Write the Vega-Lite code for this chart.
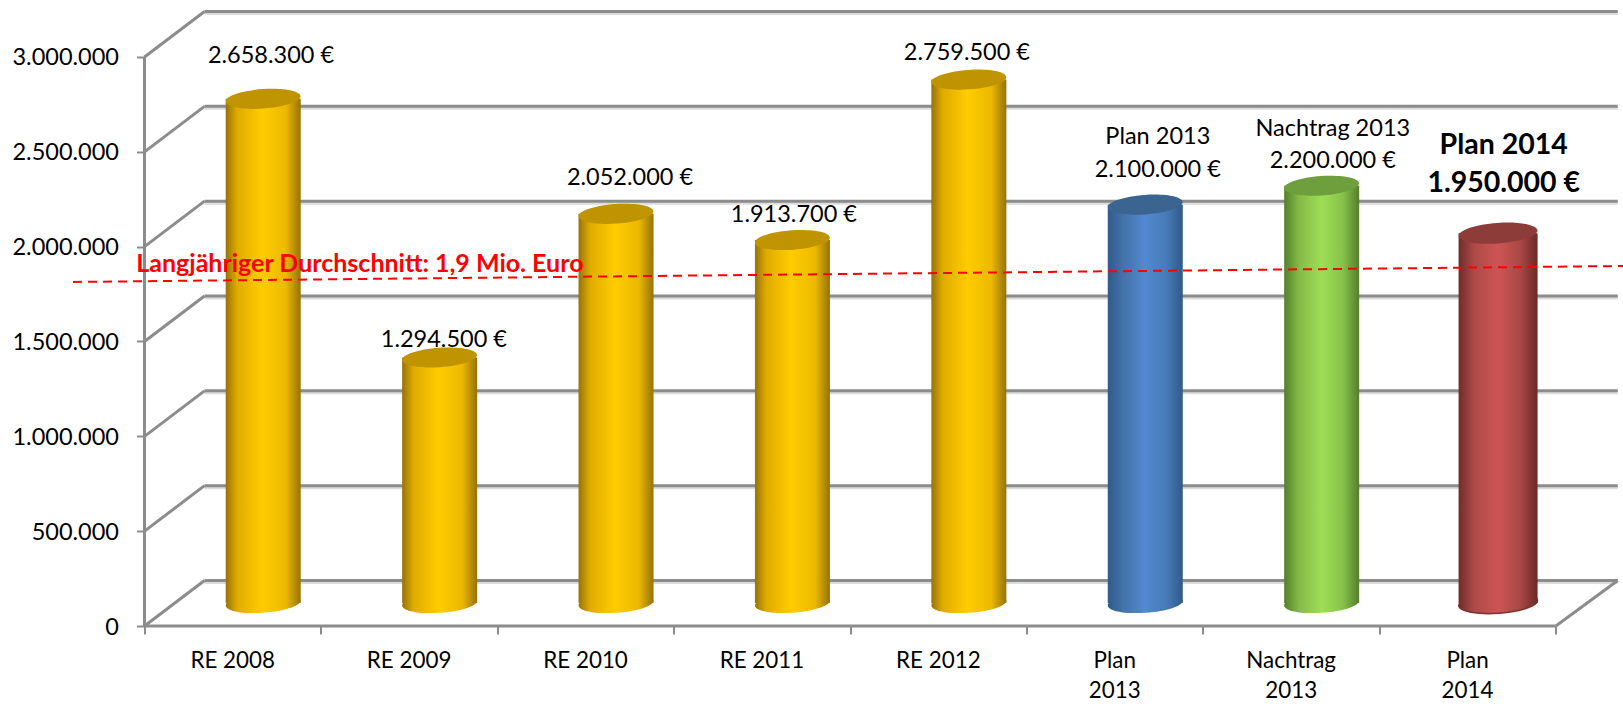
{
"$schema":"https://vega.github.io/schema/vega-lite/v6.json",
"autosize":"none","width":1478.5,"height":626,
"padding":{"left":144.5,"top":0,"right":0,"bottom":78},
"background":"white",
"config":{"view":{"stroke":null},"font":"Lato","text":{"font":"Lato"}},
"datasets":{
"grid":[{"v":0},{"v":500000},{"v":1000000},{"v":1500000},{"v":2000000},{"v":2500000},{"v":3000000}],
"bars":[
{"cat":"RE 2008","axisLabel":"RE 2008","pos":0.5,"value":2658300,"series":"RE"},
{"cat":"RE 2009","axisLabel":"RE 2009","pos":1.5,"value":1294500,"series":"RE"},
{"cat":"RE 2010","axisLabel":"RE 2010","pos":2.5,"value":2052000,"series":"RE"},
{"cat":"RE 2011","axisLabel":"RE 2011","pos":3.5,"value":1913700,"series":"RE"},
{"cat":"RE 2012","axisLabel":"RE 2012","pos":4.5,"value":2759500,"series":"RE"},
{"cat":"Plan 2013","axisLabel":"Plan\n2013","pos":5.5,"value":2100000,"series":"Plan 2013"},
{"cat":"Nachtrag 2013","axisLabel":"Nachtrag\n2013","pos":6.5,"value":2200000,"series":"Nachtrag 2013"},
{"cat":"Plan 2014","axisLabel":"Plan\n2014","pos":7.5,"value":1950000,"series":"Plan 2014"}
],
"labels":[
{"t":"2.658.300 €","lx":0.717,"ly":3021000},
{"t":"1.294.500 €","lx":1.697,"ly":1521000},
{"t":"2.052.000 €","lx":2.752,"ly":2373000},
{"t":"1.913.700 €","lx":3.681,"ly":2178000},
{"t":"2.759.500 €","lx":4.662,"ly":3032000},
{"t":"Plan 2013","lx":5.744,"ly":2589000},
{"t":"2.100.000 €","lx":5.744,"ly":2420000},
{"t":"Nachtrag 2013","lx":6.736,"ly":2636000},
{"t":"2.200.000 €","lx":6.736,"ly":2467000}
],
"boldLabels":[
{"t":"Plan 2014","lx":7.705,"ly":2547000},
{"t":"1.950.000 €","lx":7.705,"ly":2346000}
],
"avg":[{"x":-0.405,"y":1814000,"x2":8.381,"y2":1898000}]
},
"layer":[
{"data":{"name":"grid"},"mark":{"type":"rule","stroke":"#dcdcdc","strokeWidth":3,"xOffset":60,"x2Offset":62,"yOffset":-43.5,"y2Offset":-43.5},
 "encoding":{
  "x":{"datum":0,"type":"quantitative","title":null,"scale":{"domain":[0,8.381],"nice":false,"zero":false,"padding":0},
    "axis":{"values":[0,1,2,3,4,5,6,7,8],"labels":false,"title":null,"grid":false,"domain":false,"tickSize":8,"tickWidth":2,"tickColor":"#8c8c8c"}},
  "x2":{"datum":8},
  "y":{"field":"v","type":"quantitative","title":null,"scale":{"domain":[0,3300527],"nice":false,"padding":0},
    "axis":{"values":[0,500000,1000000,1500000,2000000,2500000,3000000],"title":null,"grid":false,"domain":false,"tickSize":8,"tickWidth":2,"tickColor":"#8c8c8c","labelFont":"Lato","labelFontSize":23.5,"labelColor":"#000000","labelPadding":18,"labelOffset":1,"labelExpr":"replace(format(datum.value,','),/,/g,'.')"}}
 }},
{"data":{"name":"grid"},"mark":{"type":"rule","stroke":"#8c8c8c","strokeWidth":3,"xOffset":60,"x2Offset":62,"yOffset":-45.5,"y2Offset":-45.5},
 "encoding":{"x":{"datum":0,"type":"quantitative"},"x2":{"datum":8},"y":{"field":"v","type":"quantitative"}}},
{"data":{"name":"grid"},"mark":{"type":"rule","stroke":"#8c8c8c","strokeWidth":3,"x2Offset":60,"y2Offset":-45.5},
 "encoding":{"x":{"datum":0,"type":"quantitative"},"x2":{"datum":0},"y":{"field":"v","type":"quantitative"},"y2":{"field":"v"}}},
{"data":{"values":[{"v":0}]},"mark":{"type":"rule","stroke":"#8c8c8c","strokeWidth":3,"x2Offset":62,"y2Offset":-45.5},
 "encoding":{"x":{"datum":8,"type":"quantitative"},"x2":{"datum":8},"y":{"field":"v","type":"quantitative"},"y2":{"field":"v"}}},
{"data":{"values":[{"v":0}]},"mark":{"type":"rule","stroke":"#8c8c8c","strokeWidth":3},
 "encoding":{"x":{"datum":0,"type":"quantitative"},"x2":{"datum":8},"y":{"field":"v","type":"quantitative"}}},
{"data":{"values":[{"v":0,"v2":3000000}]},"mark":{"type":"rule","stroke":"#8c8c8c","strokeWidth":3},
 "encoding":{"x":{"datum":0,"type":"quantitative"},"y":{"field":"v","type":"quantitative"},"y2":{"field":"v2"}}},

{"data":{"name":"bars"},"transform":[{"filter":"datum.series==='RE'"}],"layer":[
 {"mark":{"type":"point","filled":true,"opacity":1,"size":5625,"shape":"M-0.998,0.07 A1,0.26 -4 1 0 0.998,-0.07 A1,0.26 -4 1 0 -0.998,0.07 Z","xOffset":30.5,"yOffset":-23,
   "fill":{"gradient":"linear","x1":0,"y1":0,"x2":1,"y2":0,"stops":[{"offset":0,"color":"#96720a"},{"offset":0.15,"color":"#dfab00"},{"offset":0.48,"color":"#ffcc00"},{"offset":0.8,"color":"#edb900"},{"offset":1,"color":"#96720a"}]}},
  "encoding":{"x":{"field":"pos","type":"quantitative"},"y":{"datum":0,"type":"quantitative"}}},
 {"mark":{"type":"bar","orient":"vertical","size":75,"xOffset":30.5,"yOffset":-23,"y2Offset":-23,
   "fill":{"gradient":"linear","x1":0,"y1":0,"x2":1,"y2":0,"stops":[{"offset":0,"color":"#96720a"},{"offset":0.15,"color":"#dfab00"},{"offset":0.48,"color":"#ffcc00"},{"offset":0.8,"color":"#edb900"},{"offset":1,"color":"#96720a"}]}},
  "encoding":{"x":{"field":"pos","type":"quantitative"},"y":{"field":"value","type":"quantitative"},"y2":{"datum":0}}},
 {"mark":{"type":"point","filled":true,"opacity":1,"size":5625,"fill":"#c09300","shape":"M-0.998,0.07 A1,0.26 -4 1 1 0.998,-0.07 A1,0.26 -4 1 1 -0.998,0.07 Z","xOffset":30.5,"yOffset":-23},
  "encoding":{"x":{"field":"pos","type":"quantitative"},"y":{"field":"value","type":"quantitative"}}}
]},
{"data":{"name":"bars"},"transform":[{"filter":"datum.series==='Plan 2013'"}],"layer":[
 {"mark":{"type":"point","filled":true,"opacity":1,"size":5625,"shape":"M-0.998,0.07 A1,0.26 -4 1 0 0.998,-0.07 A1,0.26 -4 1 0 -0.998,0.07 Z","xOffset":30.5,"yOffset":-23,
   "fill":{"gradient":"linear","x1":0,"y1":0,"x2":1,"y2":0,"stops":[{"offset":0,"color":"#2f5a8a"},{"offset":0.2,"color":"#4472a8"},{"offset":0.5,"color":"#5289d0"},{"offset":0.78,"color":"#477bb8"},{"offset":1,"color":"#2f5a8a"}]}},
  "encoding":{"x":{"field":"pos","type":"quantitative"},"y":{"datum":0,"type":"quantitative"}}},
 {"mark":{"type":"bar","orient":"vertical","size":75,"xOffset":30.5,"yOffset":-23,"y2Offset":-23,
   "fill":{"gradient":"linear","x1":0,"y1":0,"x2":1,"y2":0,"stops":[{"offset":0,"color":"#2f5a8a"},{"offset":0.2,"color":"#4472a8"},{"offset":0.5,"color":"#5289d0"},{"offset":0.78,"color":"#477bb8"},{"offset":1,"color":"#2f5a8a"}]}},
  "encoding":{"x":{"field":"pos","type":"quantitative"},"y":{"field":"value","type":"quantitative"},"y2":{"datum":0}}},
 {"mark":{"type":"point","filled":true,"opacity":1,"size":5625,"fill":"#3c6491","shape":"M-0.998,0.07 A1,0.26 -4 1 1 0.998,-0.07 A1,0.26 -4 1 1 -0.998,0.07 Z","xOffset":30.5,"yOffset":-23},
  "encoding":{"x":{"field":"pos","type":"quantitative"},"y":{"field":"value","type":"quantitative"}}}
]},
{"data":{"name":"bars"},"transform":[{"filter":"datum.series==='Nachtrag 2013'"}],"layer":[
 {"mark":{"type":"point","filled":true,"opacity":1,"size":5625,"shape":"M-0.998,0.07 A1,0.26 -4 1 0 0.998,-0.07 A1,0.26 -4 1 0 -0.998,0.07 Z","xOffset":30.5,"yOffset":-23,
   "fill":{"gradient":"linear","x1":0,"y1":0,"x2":1,"y2":0,"stops":[{"offset":0,"color":"#557f2b"},{"offset":0.2,"color":"#85bb46"},{"offset":0.5,"color":"#9ede58"},{"offset":0.78,"color":"#88c24a"},{"offset":1,"color":"#557f2b"}]}},
  "encoding":{"x":{"field":"pos","type":"quantitative"},"y":{"datum":0,"type":"quantitative"}}},
 {"mark":{"type":"bar","orient":"vertical","size":75,"xOffset":30.5,"yOffset":-23,"y2Offset":-23,
   "fill":{"gradient":"linear","x1":0,"y1":0,"x2":1,"y2":0,"stops":[{"offset":0,"color":"#557f2b"},{"offset":0.2,"color":"#85bb46"},{"offset":0.5,"color":"#9ede58"},{"offset":0.78,"color":"#88c24a"},{"offset":1,"color":"#557f2b"}]}},
  "encoding":{"x":{"field":"pos","type":"quantitative"},"y":{"field":"value","type":"quantitative"},"y2":{"datum":0}}},
 {"mark":{"type":"point","filled":true,"opacity":1,"size":5625,"fill":"#6f9e3c","shape":"M-0.998,0.07 A1,0.26 -4 1 1 0.998,-0.07 A1,0.26 -4 1 1 -0.998,0.07 Z","xOffset":30.5,"yOffset":-23},
  "encoding":{"x":{"field":"pos","type":"quantitative"},"y":{"field":"value","type":"quantitative"}}}
]},
{"data":{"name":"bars"},"transform":[{"filter":"datum.series==='Plan 2014'"}],"layer":[
 {"mark":{"type":"point","filled":true,"opacity":1,"size":6241,"stroke":"#7d3231","strokeWidth":1.5,"shape":"M-0.998,0.07 A1,0.26 -4 1 0 0.998,-0.07 A1,0.26 -4 1 0 -0.998,0.07 Z","xOffset":30.5,"yOffset":-23,
   "fill":{"gradient":"linear","x1":0,"y1":0,"x2":1,"y2":0,"stops":[{"offset":0,"color":"#6e2c2c"},{"offset":0.2,"color":"#ad4a48"},{"offset":0.5,"color":"#cc5654"},{"offset":0.78,"color":"#a84845"},{"offset":1,"color":"#6b2a2a"}]}},
  "encoding":{"x":{"field":"pos","type":"quantitative"},"y":{"datum":0,"type":"quantitative"}}},
 {"mark":{"type":"bar","orient":"vertical","size":79,"xOffset":30.5,"yOffset":-23,"y2Offset":-23,
   "fill":{"gradient":"linear","x1":0,"y1":0,"x2":1,"y2":0,"stops":[{"offset":0,"color":"#6e2c2c"},{"offset":0.2,"color":"#ad4a48"},{"offset":0.5,"color":"#cc5654"},{"offset":0.78,"color":"#a84845"},{"offset":1,"color":"#6b2a2a"}]}},
  "encoding":{"x":{"field":"pos","type":"quantitative"},"y":{"field":"value","type":"quantitative"},"y2":{"datum":0}}},
 {"mark":{"type":"point","filled":true,"opacity":1,"size":6241,"fill":"#8e3c3a","shape":"M-0.998,0.07 A1,0.26 -4 1 1 0.998,-0.07 A1,0.26 -4 1 1 -0.998,0.07 Z","xOffset":30.5,"yOffset":-23},
  "encoding":{"x":{"field":"pos","type":"quantitative"},"y":{"field":"value","type":"quantitative"}}}
]},

{"data":{"name":"avg"},"mark":{"type":"rule","stroke":"#ff0000","strokeWidth":2,"strokeDash":[9,6]},
 "encoding":{"x":{"field":"x","type":"quantitative"},"x2":{"field":"x2"},"y":{"field":"y","type":"quantitative"},"y2":{"field":"y2"}}},
{"data":{"values":[{"t":"Langjähriger Durchschnitt: 1,9 Mio. Euro","lx":1.221,"ly":1914000}]},"mark":{"type":"text","font":"Lato","fontSize":25,"fontWeight":"bold","fill":"#ff0000","align":"center","baseline":"middle","dy":1},
 "encoding":{"x":{"field":"lx","type":"quantitative"},"y":{"field":"ly","type":"quantitative"},"text":{"field":"t"}}},
{"data":{"name":"labels"},"mark":{"type":"text","font":"Lato","fontSize":23.5,"fill":"#000000","align":"center","baseline":"middle","dy":2.5},
 "encoding":{"x":{"field":"lx","type":"quantitative"},"y":{"field":"ly","type":"quantitative"},"text":{"field":"t"}}},
{"data":{"name":"boldLabels"},"mark":{"type":"text","font":"Lato","fontSize":28.5,"fontWeight":"bold","fill":"#000000","align":"center","baseline":"middle","dy":2},
 "encoding":{"x":{"field":"lx","type":"quantitative"},"y":{"field":"ly","type":"quantitative"},"text":{"field":"t"}}},
{"data":{"name":"bars"},"mark":{"type":"text","font":"Lato","fontSize":22.4,"fill":"#000000","align":"center","baseline":"top","dy":24,"lineHeight":30,"lineBreak":"\n"},
 "encoding":{"x":{"field":"pos","type":"quantitative"},"y":{"datum":0,"type":"quantitative"},"text":{"field":"axisLabel"}}}
]
}
